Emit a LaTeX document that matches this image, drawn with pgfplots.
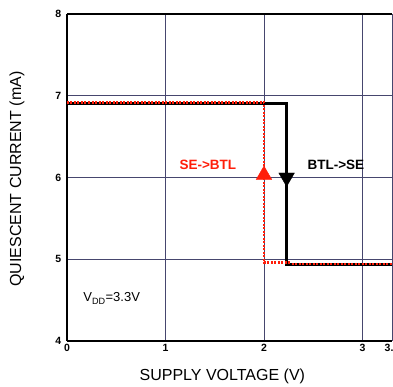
\documentclass[border=0pt]{standalone}
\usepackage{pgfplots}
\pgfplotsset{compat=1.18}
\usepackage{fontspec}
\setmainfont{Liberation Sans}
\definecolor{gridc}{RGB}{70,70,110}
\definecolor{redc}{RGB}{255,30,10}
\begin{document}
\begin{tikzpicture}[x=1pt,y=1pt]
\begin{axis}[
  at={(0pt,0pt)}, anchor=south west,
  scale only axis, width=325pt, height=327pt,
  xmin=0, xmax=3.3, ymin=4, ymax=8,
  xtick={0,1,2,3,3.3}, xticklabels={0,1,2,3,3.3},
  ytick={4,5,6,7,8}, yticklabels={4,5,6,7,8},
  axis x line=box, axis y line=left,
  axis line style={line width=1.5pt, black, -},
  tick style={draw=none},
  grid=major, grid style={gridc, line width=0.7pt},
  tick label style={font=\fontsize{10.5}{11}\selectfont\bfseries},
  /pgf/number format/assume math mode=true,
  xlabel={SUPPLY VOLTAGE (V)}, ylabel={QUIESCENT CURRENT (mA)},
  label style={font=\fontsize{16}{18}\selectfont},
  xlabel style={at={(axis description cs:0.478,0)}, anchor=center, yshift=-35pt},
  ylabel style={at={(axis description cs:0,0.495)}, anchor=center, yshift=50pt},
  clip=false,
]
\addplot[black, line width=3pt, mark=none] coordinates {(0,6.91) (2.23,6.91) (2.23,4.94) (3.3,4.94)};
\addplot[redc, line width=2.6pt, dash pattern=on 2pt off 1.5pt, mark=none] coordinates {(0,6.92) (2.0,6.92) (2.0,4.96) (2.28,4.96)};
\addplot[redc, line width=2.6pt, dash pattern=on 2pt off 1.5pt, mark=none] coordinates {(2.28,4.94) (3.3,4.94)};
\addplot[redc, only marks, mark=triangle*, mark size=9pt] coordinates {(2.0,6.03)};
\addplot[black, only marks, mark=triangle*, mark size=9pt, mark options={rotate=180}] coordinates {(2.23,6.0)};
\node[redc, font=\fontsize{13.5}{15}\selectfont\bfseries] at (axis cs:1.43,6.15) {SE->BTL};
\node[black, font=\fontsize{13.5}{15}\selectfont\bfseries] at (axis cs:2.73,6.15) {BTL->SE};
\node[font=\fontsize{13}{15}\selectfont, anchor=west] at (axis cs:0.13,4.52) {V\textsubscript{DD}=3.3V};
\end{axis}
\pgfresetboundingbox
\path[use as bounding box] (-67pt,-46pt) rectangle (326pt,341pt);
\end{tikzpicture}
\end{document}
